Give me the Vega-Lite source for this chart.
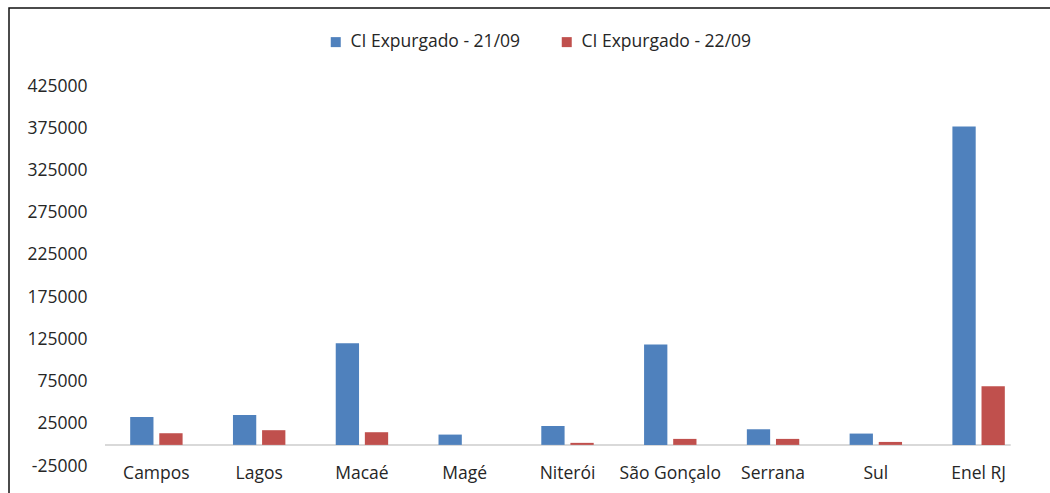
{
  "$schema": "https://vega.github.io/schema/vega-lite/v6.json",
  "autosize": "none",
  "width": 1042,
  "height": 486,
  "padding": {"left": 9, "top": 8, "right": 0, "bottom": 0},
  "background": "white",
  "config": {
    "view": {"stroke": "#111111", "strokeWidth": 1.5},
    "font": "Open Sans"
  },
  "data": {
    "values": [
      {"regiao": "Campos", "serie": "CI Expurgado - 21/09", "valor": 33000},
      {"regiao": "Campos", "serie": "CI Expurgado - 22/09", "valor": 13800},
      {"regiao": "Lagos", "serie": "CI Expurgado - 21/09", "valor": 35400},
      {"regiao": "Lagos", "serie": "CI Expurgado - 22/09", "valor": 17400},
      {"regiao": "Macaé", "serie": "CI Expurgado - 21/09", "valor": 120400},
      {"regiao": "Macaé", "serie": "CI Expurgado - 22/09", "valor": 15000},
      {"regiao": "Magé", "serie": "CI Expurgado - 21/09", "valor": 12200},
      {"regiao": "Magé", "serie": "CI Expurgado - 22/09", "valor": 0},
      {"regiao": "Niterói", "serie": "CI Expurgado - 21/09", "valor": 22400},
      {"regiao": "Niterói", "serie": "CI Expurgado - 22/09", "valor": 2400},
      {"regiao": "São Gonçalo", "serie": "CI Expurgado - 21/09", "valor": 118900},
      {"regiao": "São Gonçalo", "serie": "CI Expurgado - 22/09", "valor": 7100},
      {"regiao": "Serrana", "serie": "CI Expurgado - 21/09", "valor": 18500},
      {"regiao": "Serrana", "serie": "CI Expurgado - 22/09", "valor": 7100},
      {"regiao": "Sul", "serie": "CI Expurgado - 21/09", "valor": 13400},
      {"regiao": "Sul", "serie": "CI Expurgado - 22/09", "valor": 3500},
      {"regiao": "Enel RJ", "serie": "CI Expurgado - 21/09", "valor": 377000},
      {"regiao": "Enel RJ", "serie": "CI Expurgado - 22/09", "valor": 69300}
    ]
  },
  "resolve": {"scale": {"x": "shared", "y": "shared"}},
  "layer": [
    {
      "mark": {"type": "rule", "color": "#d9d9d9", "strokeWidth": 2},
      "encoding": {
        "y": {"datum": 0, "type": "quantitative"},
        "x": {"datum": "Campos", "type": "nominal", "bandPosition": -0.48},
        "x2": {"datum": "Enel RJ", "bandPosition": 1.1}
      }
    },
    {
      "mark": {"type": "bar"},
      "encoding": {
        "x": {
          "field": "regiao",
          "type": "nominal",
          "sort": null,
          "scale": {
            "domain": ["Campos", "Lagos", "Macaé", "Magé", "Niterói", "São Gonçalo", "Serrana", "Sul", "Enel RJ"],
            "paddingInner": 0.49, "paddingOuter": 0.245, "range": [96, 1021]
          },
          "axis": {
            "title": null,
            "domain": false,
            "ticks": false,
            "bandPosition": 0.5,
            "offset": -28,
            "labelAngle": 0,
            "labelAlign": "center",
            "labelFontSize": 17.5,
            "labelColor": "#262626",
            "labelPadding": -2,
            "labelBaseline": "top"
          }
        },
        "xOffset": {
          "field": "serie",
          "type": "nominal",
          "scale": {"paddingInner": 0.2, "paddingOuter": 0}
        },
        "y": {
          "field": "valor",
          "type": "quantitative",
          "scale": {"domain": [-25000, 425000], "nice": false, "zero": false, "range": [458, 78]},
          "axis": {
            "title": null,
            "domain": false,
            "ticks": false,
            "grid": false,
            "offset": -96,
            "values": [-25000, 25000, 75000, 125000, 175000, 225000, 275000, 325000, 375000, 425000],
            "format": "d",
            "labelExpr": "replace(datum.label, '\u2212', '-')",
            "labelFontSize": 17.5,
            "labelColor": "#262626",
            "labelPadding": 18
          }
        },
        "color": {
          "field": "serie",
          "type": "nominal",
          "scale": {"range": ["#4F81BD", "#C0504D"]},
          "legend": {
            "title": null,
            "orient": "none",
            "direction": "horizontal",
            "legendX": 318,
            "legendY": 25,
            "symbolType": "square",
            "symbolSize": 100,
            "symbolStrokeWidth": 0,
            "symbolOpacity": 1,
            "labelFontSize": 17.5,
            "labelColor": "#262626",
            "labelLimit": 400,
            "labelOffset": 6,
            "columnPadding": 37
          }
        }
      }
    }
  ]
}
